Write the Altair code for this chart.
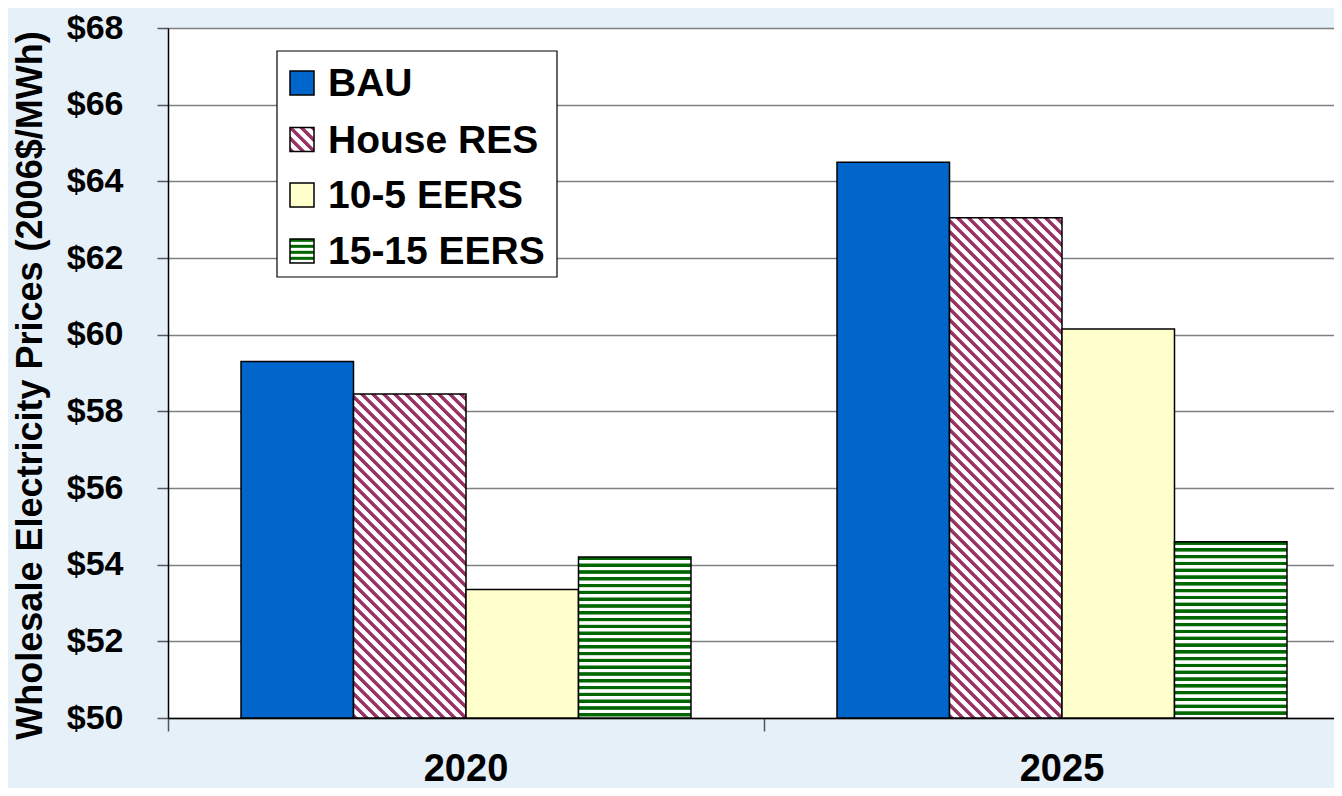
import altair as alt
import pandas as pd

# ---------------- data ----------------
years = ["2020", "2025"]
series = ["BAU", "House RES", "10-5 EERS", "15-15 EERS"]
bau = [59.3, 64.5]
house_res = [58.45, 63.05]
eers_10_5 = [53.35, 60.15]
eers_15_15 = [54.2, 54.6]
y_ticks = [50, 52, 54, 56, 58, 60, 62, 64, 66, 68]
y_title = "Wholesale Electricity Prices (2006$/MWh)"

values = {"BAU": bau, "House RES": house_res, "10-5 EERS": eers_10_5, "15-15 EERS": eers_15_15}
rows = []
for s in series:
    for i, yr in enumerate(years):
        rows.append({"year": yr, "series": s, "value": values[s][i]})
df = pd.DataFrame(rows)
legend_df = pd.DataFrame({"series": series})

# ---------------- layout / style ----------------
PAD_TOP = 20
PLOT_W, PLOT_H = 1166, 690
X_RANGE = 1192
Y_MIN, Y_MAX = y_ticks[0], y_ticks[-1]
OUTER = 0.649
BAR_W = (X_RANGE / 2) / (4 + 2 * OUTER)
FONT = "Liberation Sans"

BLUE = "#0066CC"
PLUM = "#993366"
YELLOW = "#FFFFCC"
GREEN = "#006600"


def stripe_stops(L, period, dark_frac, dark, light, soft=0.6):
    pts = []
    k = 0
    while True:
        s = k * period
        if s > L:
            break
        b = s + dark_frac * period
        for off, col in ((s, dark), (b - soft, dark), (b, light), (s + period - soft, light)):
            if 0 <= off <= L:
                pts.append({"offset": round(off / L, 5), "color": col})
        k += 1
    return pts


def diag_fill(w, h, period=11.0):
    s = (w + h) / (w * w + h * h)
    return {
        "gradient": "linear",
        "x1": 0, "y1": 1, "x2": round(s * w, 6), "y2": round(1 - s * h, 6),
        "stops": stripe_stops(w + h, period, 0.45, PLUM, "#ffffff"),
    }


def horiz_fill(h, period=6.8):
    return {
        "gradient": "linear",
        "x1": 0, "y1": 0, "x2": 0, "y2": 1,
        "stops": stripe_stops(h, period, 0.5, GREEN, "#ffffff"),
    }


def fill_for(s, w, h):
    if s == "BAU":
        return BLUE
    if s == "10-5 EERS":
        return YELLOW
    if s == "House RES":
        return diag_fill(w, h)
    return horiz_fill(h, 6.8 if h > 30 else 6.0)


x_enc = alt.X(
    "year:N",
    scale=alt.Scale(domain=years, range=[0, X_RANGE], paddingInner=0, paddingOuter=0),
    axis=alt.Axis(
        title=None, bandPosition=0, labelAngle=0,
        labelFont=FONT, labelFontSize=38, labelFontWeight="bold", labelColor="black",
        labelPadding=19, tickSize=13, tickColor="#555555", tickWidth=1.5,
        domainColor="black", domainWidth=1.5, grid=False,
    ),
)
xo_enc = alt.XOffset("series:N", scale=alt.Scale(domain=series, paddingInner=0, paddingOuter=OUTER))
y_enc = alt.Y(
    "value:Q",
    scale=alt.Scale(domain=[Y_MIN, Y_MAX], nice=False, zero=False),
    axis=alt.Axis(
        values=y_ticks, labelExpr="'$' + datum.value",
        labelFont=FONT, labelFontSize=34, labelFontWeight="bold", labelColor="black",
        labelPadding=34, tickSize=11, tickColor="#555555", tickWidth=1.5,
        domainColor="black", domainWidth=1.5,
        gridColor="#808080", gridWidth=1.5,
        title=y_title, titleFont=FONT, titleFontSize=36, titleFontWeight="bold",
        titleColor="black", titleX=-138, titleY=357, titleAngle=-90,
        titleBaseline="middle", titleAlign="center",
    ),
)

layers = []
for s in series:
    for i, yr in enumerate(years):
        v = values[s][i]
        h = (v - Y_MIN) / (Y_MAX - Y_MIN) * PLOT_H
        layers.append(
            alt.Chart(df)
            .transform_filter((alt.datum.year == yr) & (alt.datum.series == s))
            .mark_bar(stroke="black", strokeWidth=1.5)
            .encode(x=x_enc, xOffset=xo_enc, y=y_enc, y2=alt.datum(Y_MIN), fill=alt.value(fill_for(s, BAR_W, h)))
        )

# ---------------- legend (manual, for patterned swatches) ----------------
OFF = 17 - PAD_TOP
LX0, LX1, LY0, LY1 = 109, 389, 26 + OFF, 252 + OFF
legend_box = alt.Chart(legend_df.head(1)).mark_rect(fill="white", stroke="black", strokeWidth=1.2).encode(
    x=alt.value(LX0), x2=alt.value(LX1), y=alt.value(LY0), y2=alt.value(LY1)
)
layers.append(legend_box)
item_cy = [58 + OFF, 114.5 + OFF, 170 + OFF, 226 + OFF]
SW = 24
for s, cy in zip(series, item_cy):
    sw = alt.Chart(legend_df).transform_filter(alt.datum.series == s).mark_rect(
        stroke="black", strokeWidth=1.5
    ).encode(
        x=alt.value(122), x2=alt.value(122 + SW),
        y=alt.value(cy - SW / 2), y2=alt.value(cy + SW / 2),
        fill=alt.value(fill_for(s, SW, SW) if s != "15-15 EERS" else horiz_fill(SW, 6.0)),
    )
    tx = alt.Chart(legend_df).transform_filter(alt.datum.series == s).mark_text(
        align="left", baseline="middle", font=FONT, fontSize=39, fontWeight="bold", color="black"
    ).encode(x=alt.value(160), y=alt.value(cy + 1), text="series:N")
    layers += [sw, tx]

chart = (
    alt.layer(*layers)
    .properties(
        width=PLOT_W, height=PLOT_H,
        autosize=alt.AutoSizeParams(type="none"),
        padding={"left": 160, "top": PAD_TOP, "right": 0, "bottom": 70},
    )
    .configure(background="#e6f0f9")
    .configure_view(fill="white", stroke="transparent")
)

chart.save("out.html", embed_options={"renderer": "svg", "actions": False})
